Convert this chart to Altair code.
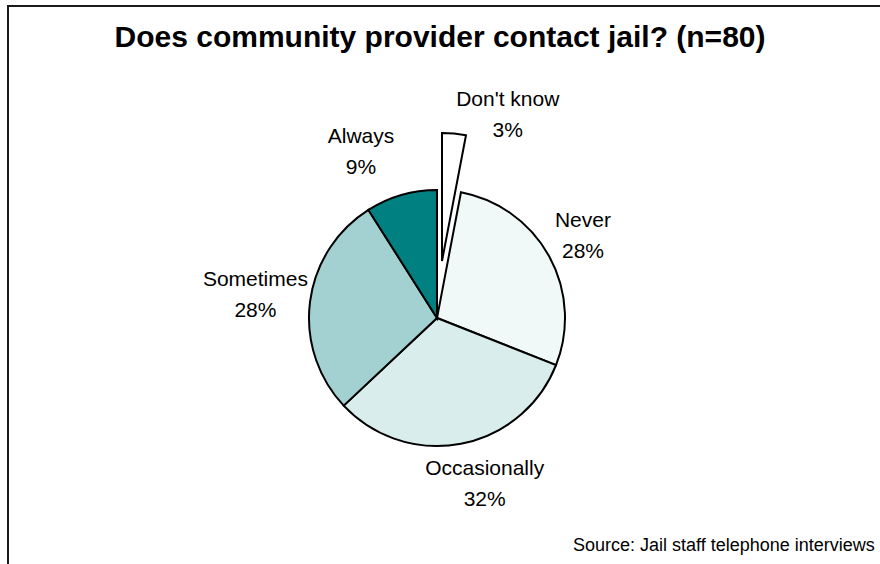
import altair as alt
import pandas as pd

# ---- data ----
categories = ["Don't know", "Never", "Occasionally", "Sometimes", "Always"]
percents = [3, 28, 32, 28, 9]
order_idx = [0, 1, 2, 3, 4]

title_text = "Does community provider contact jail? (n=80)"
source_text = "Source: Jail staff telephone interviews"

fill_colors = ["#ffffff", "#f0f8f8", "#d9eded", "#a3d1d1", "#008080"]

df = pd.DataFrame({"cat": categories, "pct": percents, "idx": order_idx})

FONT = "Liberation Sans"
LABEL_SIZE = 21
LINE_H = 31
theta_scale = alt.Scale(domain=[0, 100], range=[0, 6.283185307179586])
fill_scale = alt.Scale(domain=categories, range=fill_colors)

base = (
    alt.Chart(df)
    .transform_window(end="sum(pct)", sort=[alt.SortField("idx")], frame=[None, 0])
    .transform_calculate(
        start="datum.end - datum.pct",
        mid="datum.end - datum.pct / 2",
        label="datum.cat + '\\n' + datum.pct + '%'",
    )
)

CX, CY = 437, 318
EX, EY = CX + 5, CY - 57  # centre of the pulled-out slice


def slice_layer(filt, cx, cy):
    return base.transform_filter(filt).mark_arc(
        radius=128, stroke="black", strokeWidth=2
    ).encode(
        theta=alt.Theta("start:Q", scale=theta_scale),
        theta2="end:Q",
        fill=alt.Fill("cat:N", scale=fill_scale, legend=None),
        x=alt.value(cx),
        y=alt.value(cy),
    )


def label_layer(i, r, dx=0, cx=CX, cy=CY):
    return base.transform_filter(f"datum.idx == {i}").mark_text(
        radius=r, dx=dx, dy=-LINE_H / 2, font=FONT, fontSize=LABEL_SIZE,
        lineBreak="\n", lineHeight=LINE_H, align="center", baseline="middle",
        color="black"
    ).encode(
        theta=alt.Theta("mid:Q", scale=theta_scale),
        text="label:N",
        x=alt.value(cx),
        y=alt.value(cy),
    )


slices = slice_layer("datum.idx != 0", CX, CY)
exploded = slice_layer("datum.idx == 0", EX, EY)

labels = [
    label_layer(0, 146, dx=52, cx=EX, cy=EY),
    label_layer(1, 170, dx=-3),
    label_layer(2, 169, dx=16),
    label_layer(3, 183, dx=0),
    label_layer(4, 172, dx=-28),
]

one = pd.DataFrame({"t": [title_text], "s": [source_text]})

title = alt.Chart(one).mark_text(
    font=FONT, fontSize=30, fontWeight="bold", align="center", baseline="alphabetic", color="black"
).encode(text="t:N", x=alt.value(440), y=alt.value(47))

source = alt.Chart(one).mark_text(
    font=FONT, fontSize=18, align="left", baseline="alphabetic", color="black"
).encode(text="s:N", x=alt.value(573), y=alt.value(551))

frame = alt.Chart(one).mark_rect(
    fill="transparent", stroke="#1a1a1a", strokeWidth=2
).encode(x=alt.value(8), x2=alt.value(960), y=alt.value(6), y2=alt.value(640))

chart = (
    alt.layer(frame, slices, exploded, *labels, title, source)
    .properties(width=880, height=564, padding=0, autosize=alt.AutoSizeParams(type="none"),
                background="white")
    .configure_view(stroke=None)
)

chart.save("out.html", embed_options={"renderer": "svg", "actions": False})
